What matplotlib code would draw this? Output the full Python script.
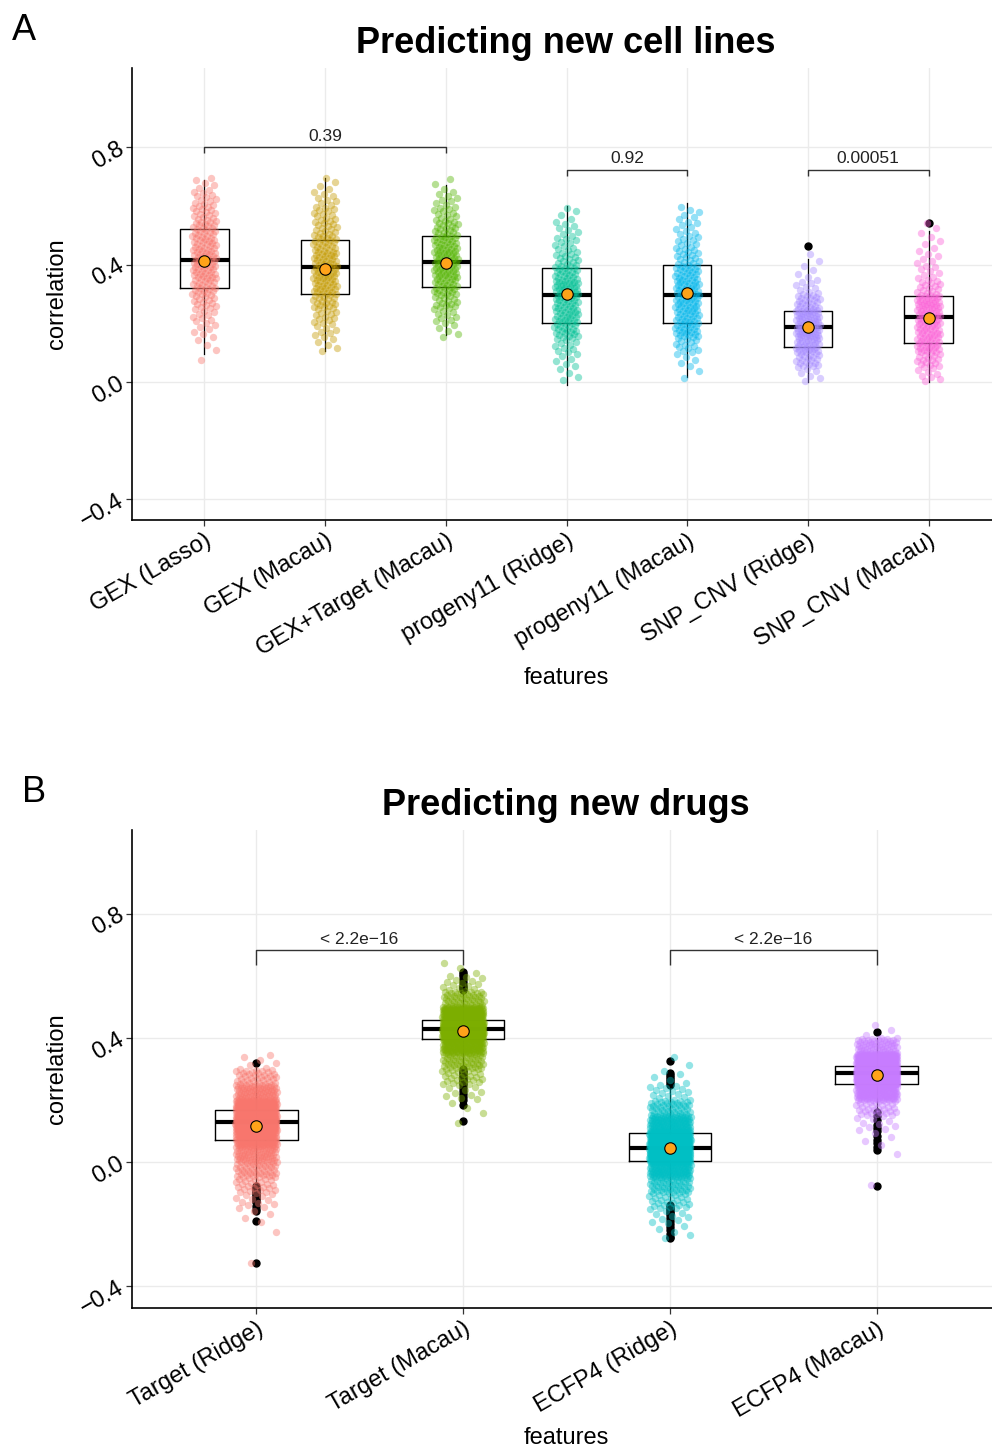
import numpy as np
import matplotlib
matplotlib.use("Agg")
import matplotlib.pyplot as plt

plt.rcParams['font.family'] = ['Liberation Sans', 'DejaVu Sans']

# ---------------- Panel A data ----------------
a_features = ["GEX (Lasso)", "GEX (Macau)", "GEX+Target (Macau)", "progeny11 (Ridge)",
              "progeny11 (Macau)", "SNP_CNV (Ridge)", "SNP_CNV (Macau)"]
a_colors = ["#F8766D", "#C49A00", "#53B400", "#00C094", "#00B6EB", "#A58AFF", "#FB61D7"]
a_q1 = [0.320, 0.300, 0.323, 0.202, 0.202, 0.120, 0.132]
a_med = [0.416, 0.391, 0.409, 0.298, 0.298, 0.186, 0.223]
a_q3 = [0.521, 0.484, 0.496, 0.390, 0.399, 0.243, 0.292]
a_wlo = [0.095, 0.106, 0.159, -0.009, 0.018, 0.001, 0.001]
a_whi = [0.688, 0.694, 0.671, 0.601, 0.609, 0.419, 0.516]
a_mean = [0.413, 0.385, 0.406, 0.301, 0.303, 0.189, 0.219]
a_outliers = [[], [], [], [], [], [0.464], [0.541]]
# point clouds: counts per 0.05-wide bin, starting at a_bin_start
a_bin_start = [0.05, 0.10, 0.15, 0.0, 0.0, 0.0, 0.0]
a_bin_counts = [
    [1, 3, 6, 10, 15, 20, 24, 25, 22, 20, 15, 11, 6],
    [5, 8, 12, 18, 24, 26, 24, 20, 15, 12, 8, 4],
    [5, 10, 16, 22, 27, 28, 24, 18, 12, 8, 3],
    [4, 6, 10, 21, 25, 24, 29, 22, 14, 10, 7, 4],
    [2, 5, 12, 24, 24, 26, 26, 23, 15, 11, 8, 6],
    [6, 20, 30, 40, 35, 22, 9, 4, 2],
    [8, 16, 26, 26, 30, 30, 14, 8, 6, 4, 3],
]
a_pairs = [(0, 2), (3, 4), (5, 6)]
a_pvalues = ["0.39", "0.92", "0.00051"]

# ---------------- Panel B data ----------------
b_features = ["Target (Ridge)", "Target (Macau)", "ECFP4 (Ridge)", "ECFP4 (Macau)"]
b_colors = ["#F8766D", "#7CAE00", "#00BFC4", "#C77CFF"]
b_q1 = [0.071, 0.397, 0.002, 0.252]
b_med = [0.130, 0.429, 0.047, 0.287]
b_q3 = [0.169, 0.459, 0.095, 0.311]
b_wlo = [-0.074, 0.305, -0.133, 0.163]
b_whi = [0.314, 0.550, 0.234, 0.400]
b_mean = [0.115, 0.423, 0.044, 0.281]
b_outliers = [
    [0.320, -0.078, -0.082, -0.086, -0.090, -0.095, -0.100, -0.105, -0.110, -0.115,
     -0.120, -0.125, -0.130, -0.140, -0.150, -0.158, -0.190, -0.325],
    [0.555, 0.560, 0.565, 0.570, 0.580, 0.590, 0.600, 0.605, 0.611,
     0.300, 0.295, 0.290, 0.285, 0.280, 0.275, 0.270, 0.265, 0.260, 0.255, 0.250,
     0.240, 0.230, 0.220, 0.210, 0.200, 0.183, 0.133],
    [0.327, 0.287, 0.280, 0.274, 0.268, 0.262, 0.255, 0.248,
     -0.138, -0.145, -0.150, -0.155, -0.160, -0.165, -0.170, -0.180, -0.190,
     -0.200, -0.210, -0.220, -0.230, -0.240, -0.245],
    [0.420, 0.160, 0.150, 0.135, 0.120, 0.110, 0.100, 0.085, 0.070, 0.060, 0.050,
     0.040, -0.077],
]
b_bin_start = [-0.35, 0.10, -0.25, -0.10]
b_bin_counts = [
    [1, 0, 1, 4, 12, 25, 45, 70, 140, 260, 190, 80, 35, 6],
    [1, 3, 10, 25, 50, 130, 360, 190, 50, 15, 3],
    [5, 10, 25, 50, 110, 260, 230, 110, 45, 15, 5, 2],
    [1, 0, 1, 4, 10, 30, 120, 390, 230, 60, 3],
]
b_pairs = [(0, 1), (2, 3)]
b_pvalues = ["< 2.2e\u221216", "< 2.2e\u221216"]

y_ticks = [-0.4, 0.0, 0.4, 0.8]
BIN_W = 0.05

W, H = 992, 1449
fig = plt.figure(figsize=(W / 100, H / 100), dpi=100)


def px_axes(left, top, right, bottom):
    return fig.add_axes([left / W, 1 - bottom / H, (right - left) / W, (bottom - top) / H])


def cloud(center, start, counts):
    ys = []
    for b, n in enumerate(counts):
        lo = start + b * BIN_W
        for j in range(n):
            ys.append(lo + (j + 0.5) / n * BIN_W)
    ys = np.array(ys)
    k = np.arange(len(ys))
    xs = center + (np.mod(k * 0.6180339887 + 0.37, 1.0) - 0.5) * 0.2
    return xs, ys


def panel(ax, feats, colors, q1, med, q3, wlo, whi, means, outl, bstart, bcounts,
          pairs, pvals, br_y, br_leg):
    n = len(feats)
    pos = np.arange(1, n + 1)
    stats = []
    for i in range(n):
        stats.append(dict(med=med[i], q1=q1[i], q3=q3[i], whislo=wlo[i], whishi=whi[i],
                          fliers=np.array(outl[i])))
    ax.bxp(stats, positions=pos, widths=0.4, showcaps=False, showfliers=True,
           boxprops=dict(color="black", linewidth=1.0),
           whiskerprops=dict(color="black", linewidth=0.9),
           medianprops=dict(color="black", linewidth=3.0, solid_capstyle="butt"),
           flierprops=dict(marker="o", markerfacecolor="black", markeredgecolor="black",
                           markersize=5.0, linestyle="none"),
           zorder=2)
    for i in range(n):
        xs, ys = cloud(pos[i], bstart[i], bcounts[i])
        ax.scatter(xs, ys, s=28, color=colors[i], alpha=0.42, linewidths=0, zorder=3)
    ax.scatter(pos, means, s=68, color="#FFA31A", edgecolors="black", linewidths=0.8,
               zorder=5)
    for (a, b), p in zip(pairs, pvals):
        x1, x2 = pos[a], pos[b]
        ax.plot([x1, x1, x2, x2], [br_y[a] - br_leg, br_y[a], br_y[a], br_y[a] - br_leg],
                color="#333333", lw=1.0, zorder=6, solid_capstyle="butt")
        ax.text((x1 + x2) / 2, br_y[a] + 0.012, p, ha="center", va="bottom",
                fontsize=12.5, color="#222222")
    ax.set_xlim(0.4, n + 0.6)
    ax.set_ylim(-0.47, 1.07)
    ax.set_yticks(y_ticks)
    ax.set_yticklabels([f"{v:.1f}".replace("-", "\u2212") for v in y_ticks], rotation=30,
                       ha="right", va="center", rotation_mode="anchor", fontsize=17)
    ax.set_xticks(pos)
    ax.set_xticklabels(feats, rotation=30, ha="right", va="top", rotation_mode="anchor",
                       fontsize=17)
    ax.tick_params(axis="both", length=4, width=0.9, color="#333333", pad=3)
    ax.grid(True, color="#EBEBEB", linewidth=1.0)
    ax.set_axisbelow(True)
    for s in ["top", "right"]:
        ax.spines[s].set_visible(False)
    for s in ["left", "bottom"]:
        ax.spines[s].set_linewidth(1.2)
        ax.spines[s].set_color("black")


axA = px_axes(132, 68, 1001, 520)
panel(axA, a_features, a_colors, a_q1, a_med, a_q3, a_wlo, a_whi, a_mean, a_outliers,
      a_bin_start, a_bin_counts, a_pairs, a_pvalues,
      br_y={0: 0.80, 3: 0.724, 5: 0.724}, br_leg=0.021)

axB = px_axes(132, 830, 1001, 1308)
panel(axB, b_features, b_colors, b_q1, b_med, b_q3, b_wlo, b_whi, b_mean, b_outliers,
      b_bin_start, b_bin_counts, b_pairs, b_pvalues,
      br_y={0: 0.682, 2: 0.682}, br_leg=0.046)

# titles, labels, panel letters
fig.text(566 / W, 1 - 53 / H, "Predicting new cell lines", ha="center", va="baseline",
         fontsize=26, fontweight="bold")
fig.text(566 / W, 1 - 815 / H, "Predicting new drugs", ha="center", va="baseline",
         fontsize=26, fontweight="bold")
fig.text(12 / W, 1 - 40 / H, "A", ha="left", va="baseline", fontsize=26)
fig.text(22 / W, 1 - 802 / H, "B", ha="left", va="baseline", fontsize=26)
fig.text(57 / W, 1 - 294 / H, "correlation", rotation=90, ha="center", va="center",
         fontsize=17)
fig.text(57 / W, 1 - 1069 / H, "correlation", rotation=90, ha="center", va="center",
         fontsize=17)
fig.text(566 / W, 1 - 678 / H, "features", ha="center", va="center", fontsize=17)
fig.text(566 / W, 1 - 1438 / H, "features", ha="center", va="center", fontsize=17)

fig.savefig("out.png", dpi=100, facecolor="white")
